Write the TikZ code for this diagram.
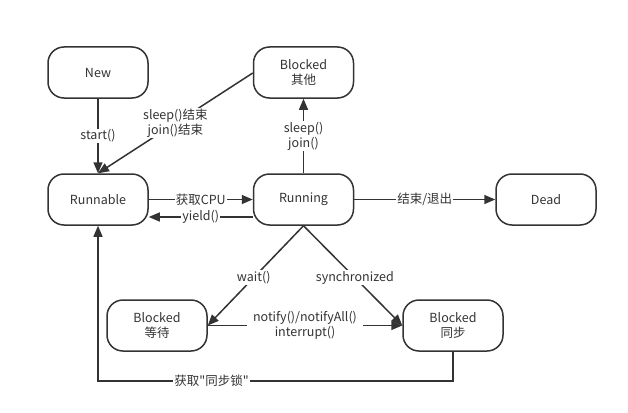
\documentclass[tikz,border=0pt]{standalone}
\usepackage{fontspec}
\setmainfont{Noto Sans CJK SC}
\newfontfamily\plainf{Noto Sans CJK SC}
\usetikzlibrary{arrows.meta}
\definecolor{ln}{HTML}{333333}
\tikzset{
  state/.style={draw=ln, line width=1.5pt, rounded corners=16pt, minimum width=100pt, minimum height=51pt, align=center, font=\fontsize{12.5}{15}\selectfont, text=ln, inner sep=0pt},
  conn/.style={draw=ln, line width=1.5pt, -{Triangle[length=11pt,width=9pt]}},
  lbl/.style={fill=white, font=\fontsize{12.5}{15}\selectfont, text=ln, align=center, inner sep=1pt},
}
\begin{document}
\begin{tikzpicture}[x=1pt,y=-1pt]
\useasboundingbox (0,0) rectangle (628,412);
\node[state] (new) at (98,72.5) {New};
\node[state] (bo) at (303.5,72.5) {Blocked\\其他};
\node[state] (rb) at (98,199.5) {Runnable};
\node[state] (rn) at (303.5,199.5) {Running};
\node[state] (dead) at (546,199.5) {Dead};
\node[state] (bw) at (157,325.5) {Blocked\\等待};
\node[state] (bs) at (453,325.5) {Blocked\\同步};

\draw[conn] (new) -- node[lbl, pos=0.5] {start()} (rb);
\draw[conn] (bo.west |- 0,73) -- node[lbl, pos=0.5] {sleep()结束\\join()结束} (rb.north);
\draw[conn] (rn) -- node[lbl, pos=0.5] {sleep()\\join()} (bo);
\draw[conn] (rb.east) -- node[lbl, pos=0.5] {获取CPU} (rn.west);
\draw[conn] (rn.west |- 0,217) -- node[lbl, pos=0.5] {yield()} (rb.east |- 0,217);
\draw[conn] (rn.east) -- node[lbl, pos=0.5] {结束/退出} (dead.west);
\draw[conn] (rn.south) -- node[lbl, pos=0.52] {wait()} (bw.east);
\draw[conn] (rn.south) -- node[lbl, pos=0.52] {synchronized} (bs.west);
\draw[conn] (bw.east) -- node[lbl, pos=0.5, inner xsep=6pt] {notify()/notifyAll()\\interrupt()} (bs.west);
\coordinate (c1) at (453,381);
\coordinate (c2) at (98,381);
\draw[conn] (bs.south) -- (c1) -- node[lbl, pos=0.68] {\plainf 获取"同步锁"} (c2) -- (rb.south);
\end{tikzpicture}
\end{document}
